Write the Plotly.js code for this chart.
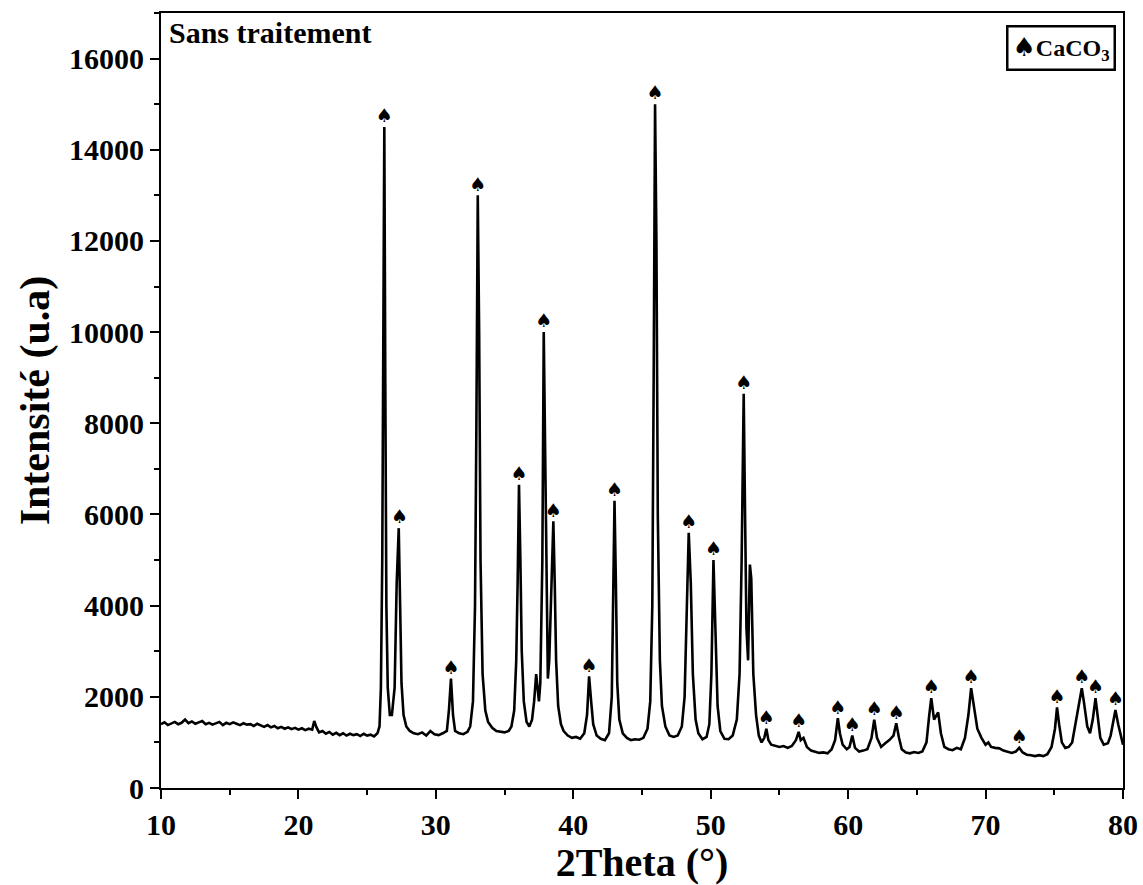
<!DOCTYPE html>
<html>
<head>
<meta charset="utf-8">
<script src="https://cdn.plot.ly/plotly-3.0.1.min.js"></script>
<style>html,body{margin:0;padding:0;background:#fff;}#chart{width:1143px;height:885px;}</style>
</head>
<body>
<div id="chart"></div>
<script>
// 2Theta (°) positions of the diffractogram
const twoTheta = [
10.0,10.25,10.5,10.75,11.0,11.25,11.5,11.75,12.0,12.25,12.5,12.75,13.0,13.25,13.5,13.75,14.0,14.25,14.5,14.75,
15.0,15.25,15.5,15.75,16.0,16.25,16.5,16.75,17.0,17.25,17.5,17.75,18.0,18.25,18.5,18.75,19.0,19.25,19.5,19.75,
20.0,20.25,20.5,20.75,21.0,21.15,21.3,21.5,21.75,22.0,22.25,22.5,22.75,23.0,23.25,23.5,23.75,24.0,24.25,24.5,
24.75,25.0,25.25,25.5,25.75,25.9,
26.0,26.1,26.18,26.25,26.32,26.4,26.5,26.65,26.8,27.0,27.15,27.3,27.4,27.5,27.65,27.85,28.1,28.4,28.7,29.0,
29.3,29.6,29.9,30.2,30.5,30.8,30.95,31.1,31.25,31.4,31.7,32.0,32.3,32.5,32.7,32.85,32.95,33.05,33.15,33.25,
33.4,33.6,33.8,34.1,34.4,34.7,35.0,35.3,35.5,35.7,35.85,35.95,36.05,36.15,36.25,36.4,36.6,36.8,37.0,37.15,
37.3,37.4,37.5,37.6,37.75,37.85,37.95,38.05,38.15,38.25,38.4,38.55,38.65,38.75,38.9,39.1,39.3,39.6,39.9,40.2,
40.5,40.8,41.0,41.15,41.3,41.45,41.7,42.0,42.3,42.6,42.8,42.9,43.0,43.1,43.2,43.35,43.6,43.9,44.2,44.5,
44.8,45.1,45.4,45.6,45.75,45.85,45.95,46.05,46.15,46.3,46.45,46.7,47.0,47.3,47.6,47.9,48.1,48.25,48.4,48.55,
48.7,48.9,49.1,49.4,49.7,49.9,50.05,50.2,50.35,50.5,50.7,51.0,51.3,51.6,51.9,52.1,52.25,52.4,52.5,52.6,
52.72,52.85,52.95,53.1,53.3,53.5,53.7,53.9,54.05,54.2,54.4,54.7,55.0,55.3,55.6,55.9,56.2,56.4,56.55,56.75,
57.0,57.3,57.6,57.9,58.2,58.5,58.8,59.05,59.25,59.4,59.6,59.9,60.1,60.3,60.5,60.8,61.1,61.4,61.7,61.9,
62.1,62.4,62.7,63.0,63.3,63.5,63.7,63.9,64.2,64.5,64.8,65.1,65.4,65.7,65.9,66.05,66.25,66.55,66.75,67.0,
67.3,67.6,67.9,68.2,68.5,68.75,68.95,69.15,69.4,69.7,70.0,70.2,70.4,70.7,71.0,71.3,71.6,71.9,72.2,72.45,
72.7,73.0,73.3,73.6,73.9,74.2,74.5,74.8,75.05,75.2,75.35,75.55,75.8,76.05,76.3,76.6,76.85,77.0,77.15,77.4,
77.6,77.8,78.0,78.15,78.35,78.6,78.9,79.1,79.3,79.45,79.65,79.85,80.0
];
// Intensité (u.a)
const intensity = [
1400,1440,1380,1420,1450,1400,1430,1500,1420,1460,1410,1440,1470,1400,1430,1390,1420,1450,1380,1430,
1400,1440,1410,1380,1420,1390,1400,1360,1410,1370,1340,1380,1330,1360,1310,1340,1300,1330,1290,1320,
1280,1310,1270,1300,1280,1470,1340,1220,1250,1190,1230,1170,1210,1160,1200,1150,1190,1160,1180,1140,
1190,1150,1170,1130,1200,1350,
2200,5000,11000,14500,9000,4000,2200,1600,1600,2200,4500,5700,4000,2300,1600,1350,1250,1200,1180,1220,
1150,1250,1180,1160,1200,1250,1700,2400,1600,1250,1200,1180,1230,1350,1900,4000,8000,13000,10000,5000,
2500,1700,1450,1320,1250,1240,1220,1250,1350,1700,2800,4500,6650,5000,3000,1900,1450,1350,1500,1900,
2500,2200,1900,2300,5000,10000,7500,4000,2400,2800,4500,5850,4500,2800,1800,1400,1250,1150,1100,1120,
1080,1200,1600,2450,1900,1400,1150,1080,1050,1200,2000,4000,6300,4500,2300,1500,1200,1100,1050,1070,
1060,1100,1300,1900,4000,9000,15000,12000,6000,2800,1800,1350,1150,1120,1150,1350,2000,3800,5600,4500,
2500,1500,1200,1070,1120,1400,2500,5000,3500,1800,1250,1080,1070,1150,1500,2500,5000,8650,6000,3500,
2800,4900,4600,2500,1600,1150,1000,1100,1300,1050,950,920,900,920,880,920,1050,1230,1050,1100,
900,820,790,770,780,760,850,1050,1530,1200,950,850,900,1150,880,800,820,850,1100,1500,
1100,900,980,1050,1150,1420,1100,850,780,760,790,770,800,1000,1600,1970,1500,1660,1200,900,
850,830,880,850,1100,1600,2190,1800,1300,1100,950,1000,900,880,870,820,790,770,800,880,
780,730,720,700,720,700,740,900,1300,1770,1400,1000,880,900,1000,1500,2000,2190,1900,1350,
1200,1500,1970,1600,1100,950,980,1150,1500,1710,1400,1100,950
];
// CaCO3 reflections marked with a spade
const peakPos = [26.25,27.35,31.1,33.05,36.05,37.85,38.55,41.15,43.0,45.95,48.4,50.2,52.4,54.05,56.4,59.25,60.3,61.9,63.5,66.05,68.95,72.45,75.2,77.0,78.0,79.45];
const peakTop = [14500,5700,2400,13000,6650,10000,5850,2450,6300,15000,5600,5000,8650,1300,1230,1530,1150,1500,1420,1970,2190,880,1770,2190,1970,1710];

const FONT = 'Liberation Serif, Times New Roman, serif';

const traces = [
  {x: twoTheta, y: intensity, mode: 'lines', type: 'scatter',
   line: {color: '#000', width: 2.6}, showlegend: false, hoverinfo: 'skip'},
  {x: peakPos, y: peakTop, mode: 'text', type: 'scatter',
   text: peakPos.map(() => '♠'), textposition: 'top center',
   textfont: {family: 'DejaVu Sans', size: 19, color: '#000'},
   showlegend: false, hoverinfo: 'skip', cliponaxis: false}
];

const layout = {
  width: 1143, height: 885,
  margin: {l: 161, r: 20, t: 13, b: 97},
  paper_bgcolor: '#fff', plot_bgcolor: '#fff',
  showlegend: false,
  xaxis: {
    range: [10, 80], dtick: 10, tick0: 10,
    showgrid: false, zeroline: false,
    showline: true, mirror: true, linecolor: '#000', linewidth: 2,
    ticks: 'outside', ticklen: 9, tickwidth: 2, tickcolor: '#000',
    minor: {ticks: 'outside', ticklen: 5, tickwidth: 2, tickcolor: '#000', dtick: 5},
    tickfont: {family: FONT, size: 30, color: '#000', weight: 'bold'},
    title: {text: '<b>2Theta (°)</b>', font: {family: FONT, size: 40, color: '#000'}, standoff: 8}
  },
  yaxis: {
    range: [0, 17000], dtick: 2000, tickformat: 'd',
    showgrid: false, zeroline: false,
    showline: true, mirror: true, linecolor: '#000', linewidth: 2,
    ticks: 'outside', ticklen: 9, tickwidth: 2, tickcolor: '#000',
    minor: {ticks: 'outside', ticklen: 5, tickwidth: 2, tickcolor: '#000', dtick: 1000},
    tickfont: {family: FONT, size: 30, color: '#000', weight: 'bold'},
    title: {text: '<b>Intensité (u.a)</b>', font: {family: FONT, size: 42, color: '#000'}, standoff: 6}
  },
  annotations: [
    {xref: 'paper', yref: 'paper', x: 0.006, y: 0.999, xanchor: 'left', yanchor: 'top',
     text: '<b>Sans traitement</b>', showarrow: false,
     font: {family: FONT, size: 30, color: '#000'}},
    {xref: 'paper', yref: 'paper', x: 0.993, y: 0.985, xanchor: 'right', yanchor: 'top',
     text: '<span style="font-family:DejaVu Sans;font-size:26px">♠</span><b>CaCO<sub>3</sub></b>', showarrow: false,
     font: {family: FONT, size: 24, color: '#000'},
     bordercolor: '#000', borderwidth: 2.5, borderpad: 4, bgcolor: '#fff'}
  ]
};

Plotly.newPlot('chart', traces, layout, {displayModeBar: false, staticPlot: true});
</script>
</body>
</html>
